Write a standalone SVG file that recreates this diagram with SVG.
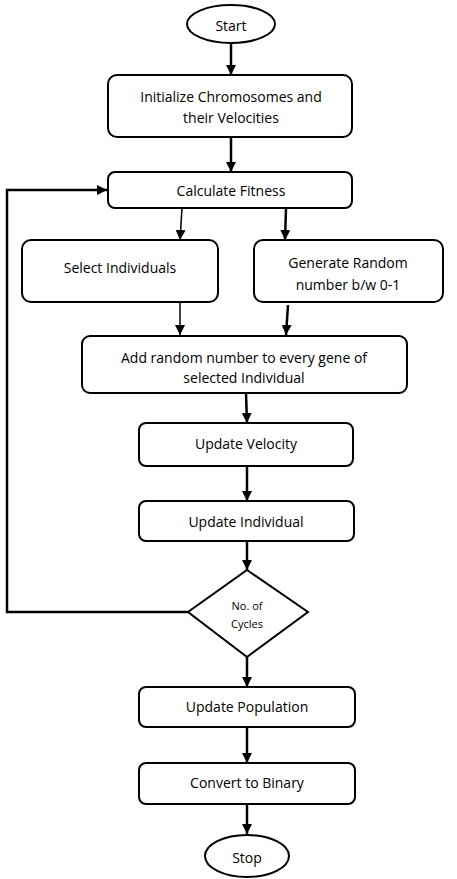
<svg xmlns="http://www.w3.org/2000/svg" width="457" height="879" viewBox="0 0 457 879">
<style>
.box{fill:#fff;stroke:#000;stroke-width:2}
.t{font-family:"Open Sans","Liberation Sans",sans-serif;font-size:14px;fill:#000;text-anchor:middle;dominant-baseline:central}
.s{font-size:11px}
.c{fill:none;stroke:#000;stroke-width:2.5}
.c1{fill:none;stroke:#000;stroke-width:1.5}
</style>
<defs>
<marker id="ah" viewBox="0 0 10 10" refX="10" refY="5" markerWidth="10" markerHeight="10" markerUnits="userSpaceOnUse" orient="auto">
<path d="M0,0 L10,5 L0,10 z" fill="#000"/>
</marker>
</defs>
<rect width="457" height="879" fill="#fff"/>
<g id="connectors">
<line class="c" x1="231" y1="43" x2="231" y2="75" marker-end="url(#ah)"/>
<line class="c" x1="231" y1="137" x2="231" y2="172" marker-end="url(#ah)"/>
<line class="c1" x1="182" y1="208" x2="180" y2="240" marker-end="url(#ah)"/>
<line class="c" x1="286" y1="208" x2="285" y2="240" marker-end="url(#ah)"/>
<line class="c1" x1="180" y1="302" x2="180" y2="335" marker-end="url(#ah)"/>
<line class="c" x1="288" y1="305" x2="286" y2="335" marker-end="url(#ah)"/>
<line class="c" x1="246" y1="393" x2="247" y2="423" marker-end="url(#ah)"/>
<line class="c" x1="247" y1="466" x2="247" y2="501" marker-end="url(#ah)"/>
<line class="c" x1="247" y1="541" x2="247" y2="570" marker-end="url(#ah)"/>
<polyline class="c" points="188,612 7,612 7,190 107,190" marker-end="url(#ah)"/>
<line class="c" x1="247" y1="657" x2="247" y2="687" marker-end="url(#ah)"/>
<line class="c" x1="247" y1="727" x2="247" y2="763" marker-end="url(#ah)"/>
<line class="c" x1="247" y1="804" x2="247" y2="834" marker-end="url(#ah)"/>
</g>
<g id="start">
<ellipse class="box" cx="231" cy="24" rx="44" ry="19"/>
<text class="t" x="231" y="25">Start</text>
</g>
<g id="init">
<rect class="box" x="108" y="75" width="244" height="62" rx="9"/>
<text class="t" x="231" y="96">Initialize Chromosomes and</text>
<text class="t" x="231" y="117">their Velocities</text>
</g>
<g id="fitness">
<rect class="box" x="108" y="172" width="244" height="36" rx="7"/>
<text class="t" x="231" y="190">Calculate Fitness</text>
</g>
<g id="select">
<rect class="box" x="22" y="240" width="196" height="62" rx="9"/>
<text class="t" x="120" y="267">Select Individuals</text>
</g>
<g id="generate">
<rect class="box" x="254" y="240" width="189" height="62" rx="9"/>
<text class="t" x="348" y="262">Generate Random</text>
<text class="t" x="348" y="284">number b/w 0-1</text>
</g>
<g id="add">
<rect class="box" x="82" y="336" width="325" height="57" rx="8"/>
<text class="t" x="244" y="357">Add random number to every gene of</text>
<text class="t" x="244" y="377">selected Individual</text>
</g>
<g id="velocity">
<rect class="box" x="139" y="423" width="214" height="43" rx="7"/>
<text class="t" x="246" y="443">Update Velocity</text>
</g>
<g id="individual">
<rect class="box" x="139" y="501" width="215" height="40" rx="7"/>
<text class="t" x="246" y="521">Update Individual</text>
</g>
<g id="cycles">
<polygon class="box" points="247,570 308,612 247,657 188,612"/>
<text class="t s" x="247" y="605">No. of</text>
<text class="t s" x="247" y="623">Cycles</text>
</g>
<g id="population">
<rect class="box" x="139" y="687" width="216" height="40" rx="7"/>
<text class="t" x="247" y="706">Update Population</text>
</g>
<g id="binary">
<rect class="box" x="139" y="763" width="216" height="41" rx="7"/>
<text class="t" x="247" y="782">Convert to Binary</text>
</g>
<g id="stop">
<ellipse class="box" cx="247" cy="856" rx="42" ry="21"/>
<text class="t" x="247" y="857">Stop</text>
</g>
</svg>
